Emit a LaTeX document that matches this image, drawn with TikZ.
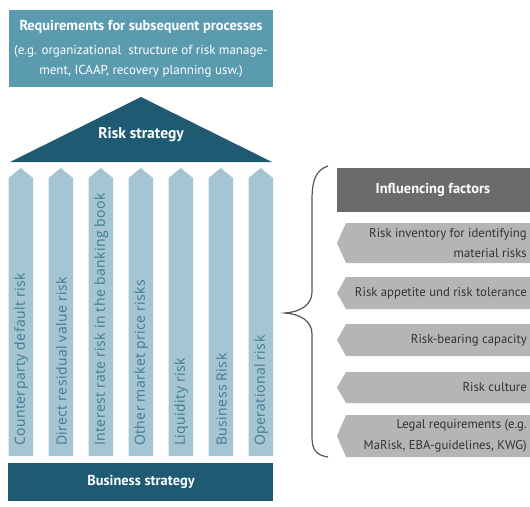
\documentclass[tikz,border=0pt]{standalone}
\usepackage{fontspec}
\setmainfont{PT Sans}
\newfontfamily\colfont[LetterSpace=3]{Open Sans}
\definecolor{topteal}{HTML}{5B9BAF}
\definecolor{darkteal}{HTML}{1E5A71}
\definecolor{colblue}{HTML}{A5C5D2}
\definecolor{coltext}{HTML}{3E7A90}
\definecolor{infgrey}{HTML}{6B6B6B}
\definecolor{boxgrey}{HTML}{B5B5B5}
\definecolor{txtgrey}{HTML}{333333}
\definecolor{bracegrey}{HTML}{555555}
\begin{document}
\begin{tikzpicture}[x=1pt,y=-1pt,
  coltxt/.style={rotate=90,anchor=west,inner sep=0pt,text=coltext,font=\colfont\fontsize{14}{16}\selectfont},
  whitebold/.style={text=white,font=\bfseries\fontsize{14.4}{16}\selectfont,inner sep=0pt},
  greytxt/.style={text=txtgrey,anchor=east,align=right,inner sep=0pt,font=\fontsize{12.75}{20.5}\selectfont}]
\useasboundingbox (0,0) rectangle (530,506);
% top box
\fill[topteal] (9,10) rectangle (273,87);
\node[whitebold] (req) at (141,27) {Requirements for subsequent processes};
\node[text=white,inner sep=0pt,align=center,font=\fontsize{13}{20}\selectfont] (reqsub) at (141,61) {(e.g. organizational\ \ structure of risk manage-\\ment, ICAAP, recovery planning usw.)};
% triangle
\fill[darkteal] (10,162) -- (141,97) -- (272,162) -- cycle;
\node[whitebold,font=\bfseries\fontsize{15.5}{18}\selectfont] (rs) at (141,135) {Risk strategy};
% columns
\foreach \i/\t in {0/Counterparty default risk,1/Direct residual value risk,2/Interest rate risk in the banking book,3/Other market price risks,4/Liquidity risk,5/Business Risk,6/Operational risk}{
  \pgfmathsetmacro{\xl}{8.5+40*\i}
  \pgfmathsetmacro{\xr}{\xl+24.5}
  \pgfmathsetmacro{\xc}{\xl+12.25}
  \fill[colblue] (\xl,456) -- (\xl,178) -- (\xc,168) -- (\xr,178) -- (\xr,456) -- cycle;
  \node[coltxt] (c\i) at (\xc+0.5,446) {\t};
}
% business strategy
\fill[darkteal] (8,463) rectangle (273,501);
\node[whitebold] (bs) at (141,482) {Business strategy};
% brace
\draw[bracegrey,line width=1.2pt] (328,166) .. controls (316,170) and (312,180) .. (312,200) -- (312,292) .. controls (312,305) and (300,312) .. (285,313) .. controls (300,314) and (312,321) .. (312,334) -- (312,437) .. controls (312,450) and (316,455) .. (328,457);
% influencing factors
\fill[infgrey] (337,168) rectangle (530,212);
\node[whitebold] (inf) at (433,190) {Influencing factors};
% grey arrow boxes
\foreach \n/\ya/\yb in {b1/223/263,b2/277/309,b3/324/356,b4/372/403,b5/415/457}{
  \fill[boxgrey] (530,\ya) -- (346,\ya) -- (337,{(\ya+\yb)/2}) -- (346,\yb) -- (530,\yb) -- cycle;
}
\node[greytxt] (t1) at (527,243) {Risk inventory for identifying\\material risks};
\node[greytxt] (t2) at (527,293) {Risk appetite und risk tolerance};
\node[greytxt] (t3) at (527,340) {Risk-bearing capacity};
\node[greytxt] (t4) at (527,387.5) {Risk culture};
\node[greytxt] (t5) at (527,436) {Legal requirements (e.g.\\MaRisk, EBA-guidelines, KWG)};
\end{tikzpicture}
\end{document}
